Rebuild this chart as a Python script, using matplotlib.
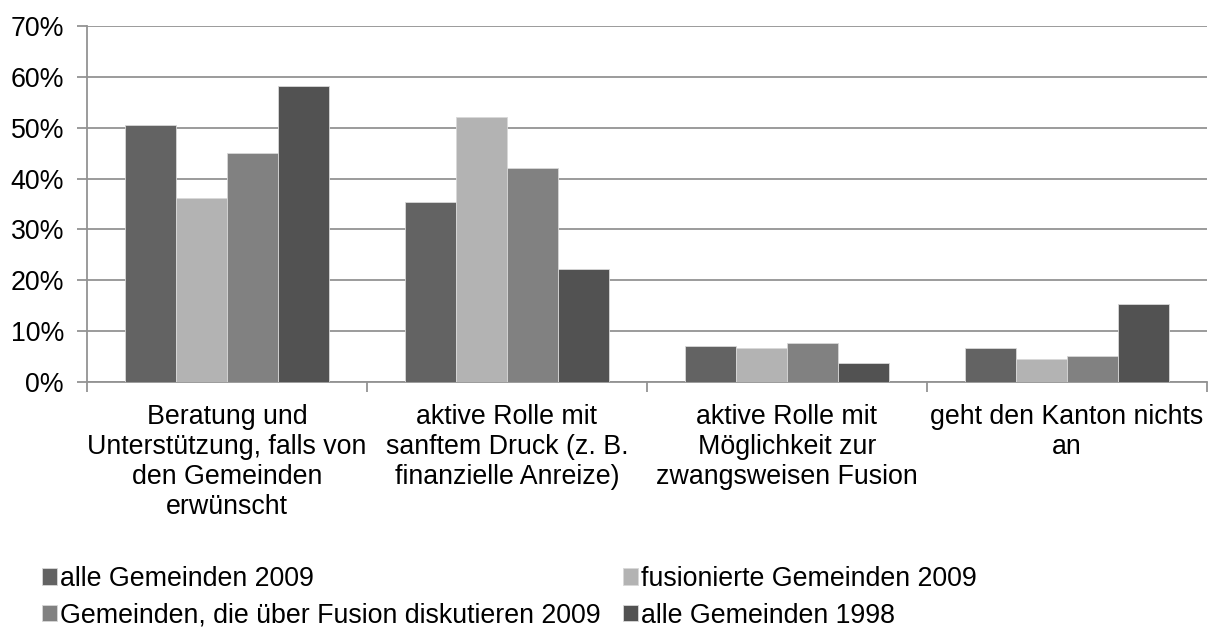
import matplotlib
matplotlib.use("Agg")
import matplotlib.pyplot as plt
import numpy as np
from matplotlib.ticker import FixedLocator, FuncFormatter

categories = [
    "Beratung und\nUnterstützung, falls von\nden Gemeinden\nerwünscht",
    "aktive Rolle mit\nsanftem Druck (z. B.\nfinanzielle Anreize)",
    "aktive Rolle mit\nMöglichkeit zur\nzwangsweisen Fusion",
    "geht den Kanton nichts\nan",
]
series_names = [
    "alle Gemeinden 2009",
    "fusionierte Gemeinden 2009",
    "Gemeinden, die über Fusion diskutieren 2009",
    "alle Gemeinden 1998",
]
alle_2009 = [50.6, 35.4, 7.0, 6.7]
fusioniert_2009 = [36.2, 52.2, 6.7, 4.5]
diskutieren_2009 = [45.1, 42.0, 7.6, 5.1]
alle_1998 = [58.3, 22.2, 3.7, 15.4]
values = [alle_2009, fusioniert_2009, diskutieren_2009, alle_1998]
colors = ["#636363", "#b3b3b3", "#818181", "#525252"]
yticks = [0, 10, 20, 30, 40, 50, 60, 70]

plt.rcParams["font.family"] = ["Liberation Sans", "DejaVu Sans"]
FS = 19.3

fig = plt.figure(figsize=(12.08, 6.32), dpi=100)
ax = fig.add_axes([87 / 1208, 1 - 382 / 632, (1207 - 87) / 1208, (382 - 26) / 632])

x = np.arange(len(categories))
w = 0.182
for i, (vals, c, name) in enumerate(zip(values, colors, series_names)):
    ax.bar(x + (i - 1.5) * w, vals, width=w, color=c, label=name,
           edgecolor="#d8d8d8", linewidth=0.6, zorder=3)

ax.set_xlim(-0.5, len(categories) - 0.5)
ax.set_ylim(0, 70)
ax.yaxis.set_major_locator(FixedLocator(yticks))
ax.yaxis.set_major_formatter(FuncFormatter(lambda v, p: f"{v:.0f}%"))
ax.grid(axis="y", color="#939393", linewidth=1.3, zorder=0)
ax.set_axisbelow(True)

ax.set_xticks(x)
ax.set_xticklabels(categories, fontsize=FS, linespacing=1.2)
ax.set_xticks(np.arange(-0.5, len(categories)), minor=True)
ax.tick_params(axis="x", which="major", length=0, pad=15.5)
ax.tick_params(axis="x", which="minor", length=7, color="#939393", width=1.3)
ax.tick_params(axis="y", length=7, color="#939393", width=1.3, labelsize=FS, pad=9.5)

for s in ["top", "right"]:
    ax.spines[s].set_visible(False)
ax.spines["left"].set_color("#939393")
ax.spines["left"].set_linewidth(1.3)
ax.spines["bottom"].set_color("#939393")
ax.spines["bottom"].set_linewidth(1.3)

handles, labels = ax.get_legend_handles_labels()
order = [0, 2, 1, 3]
fig.legend([handles[i] for i in order], [labels[i] for i in order],
           ncol=2, loc="upper left", bbox_to_anchor=(42 / 1208, 1 - 566 / 632),
           frameon=False, fontsize=FS, handlelength=0.56, handleheight=0.56,
           handletextpad=0.13, columnspacing=0.8, labelspacing=0.4,
           borderaxespad=0, borderpad=0)

fig.savefig("out.png", dpi=100)
